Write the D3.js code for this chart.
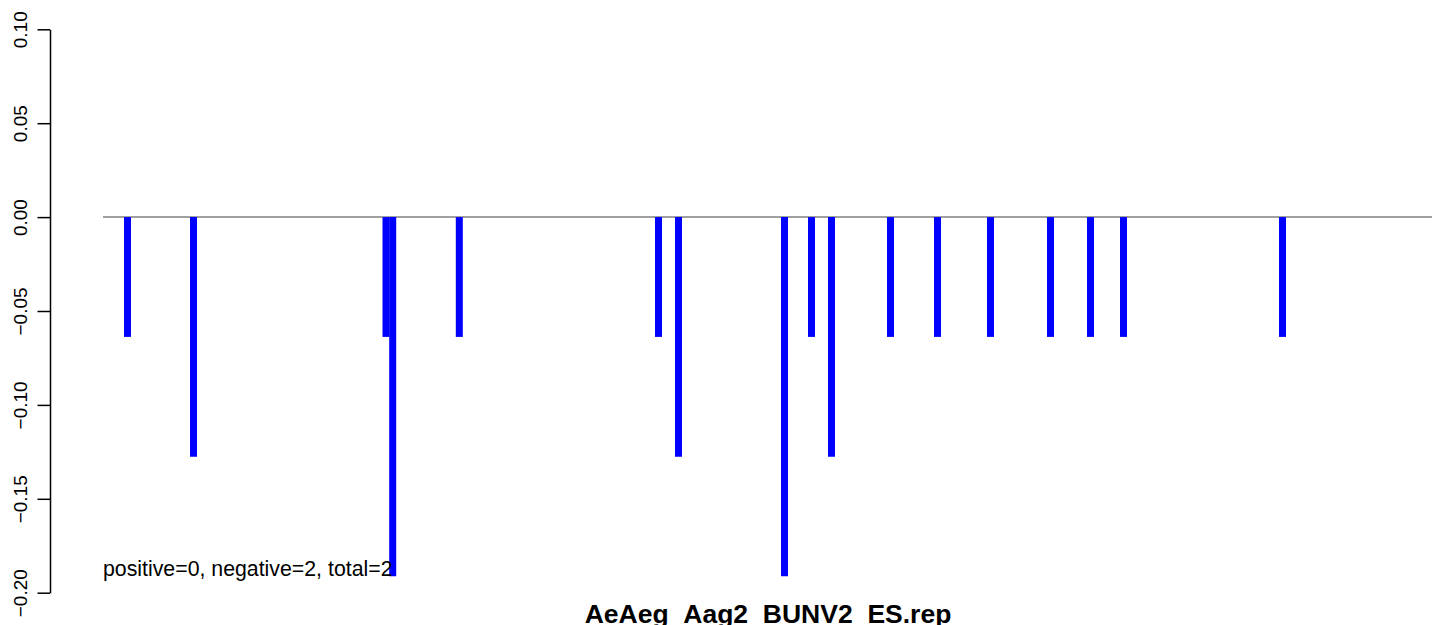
<!DOCTYPE html>
<html>
<head>
<meta charset="utf-8">
<script src="https://cdn.jsdelivr.net/npm/d3@7"></script>
<style>
  html, body { margin: 0; padding: 0; background: #fff; }
  svg { display: block; }
  text { font-family: "Liberation Sans", Arial, Helvetica, sans-serif; }
</style>
</head>
<body>
<svg id="chart" width="1444" height="625"></svg>
<script>
// ---- data ----
const positions = [24.5, 90.5, 283, 289.7, 356.3, 555.5, 575.5, 681.5, 708.5, 728.5,
                   787.5, 834.5, 887.5, 947.5, 987.5, 1020.5, 1179.5];
const values = [-0.0638, -0.1276, -0.0638, -0.1913, -0.0638, -0.0638, -0.1276, -0.1913, -0.0638, -0.1276,
                -0.0638, -0.0638, -0.0638, -0.0638, -0.0638, -0.0638, -0.0638];
const seqLength = [0, 1329];
const yDomain = [-0.2, 0.1];
const yTicks = [-0.2, -0.15, -0.1, -0.05, 0, 0.05, 0.1];
const title = "AeAeg_Aag2_BUNV2_ES.rep";
const summary = "positive=0, negative=2, total=2";

// ---- drawing ----
const svg = d3.select("#chart");
const x = d3.scaleLinear().domain(seqLength).range([103, 1432]);
const y = d3.scaleLinear().domain(yDomain).range([592.7, 29.3]);

// zero baseline
svg.append("line")
  .attr("x1", x(seqLength[0])).attr("x2", x(seqLength[1]))
  .attr("y1", y(0)).attr("y2", y(0))
  .attr("stroke", "#a0a0a0").attr("stroke-width", 2);

// histogram-like spikes
svg.append("g").selectAll("line")
  .data(positions.map((p, i) => ({p, v: values[i]})))
  .join("line")
  .attr("x1", d => x(d.p)).attr("x2", d => x(d.p))
  .attr("y1", y(0)).attr("y2", d => y(d.v))
  .attr("stroke", "#0000ff").attr("stroke-width", 7);

// y axis
const fmt = d => d3.format(".2f")(d).replace("-", "\u2212");
const yAxis = svg.append("g")
  .attr("transform", "translate(50,0)")
  .call(d3.axisLeft(y).tickValues(yTicks).tickFormat(fmt).tickSize(12.5).tickSizeOuter(0));
yAxis.select(".domain").attr("stroke", "#000").attr("stroke-width", 1.5);
yAxis.selectAll(".tick line").attr("stroke", "#000").attr("stroke-width", 1.5);
yAxis.selectAll(".tick text")
  .attr("font-size", 19)
  .attr("fill", "#000")
  .attr("text-anchor", "middle")
  .attr("transform", "rotate(-90)")
  .attr("x", 0).attr("y", -23).attr("dy", 0);

// summary text
svg.append("text")
  .attr("x", 103).attr("y", 576)
  .attr("font-size", 21.3)
  .attr("fill", "#000")
  .text(summary);

// title (partly below the bottom edge, as in the reference)
svg.append("text")
  .attr("x", 768).attr("y", 623)
  .attr("text-anchor", "middle")
  .attr("font-size", 26.5)
  .attr("font-weight", "bold")
  .attr("fill", "#000")
  .text(title);
</script>
</body>
</html>
